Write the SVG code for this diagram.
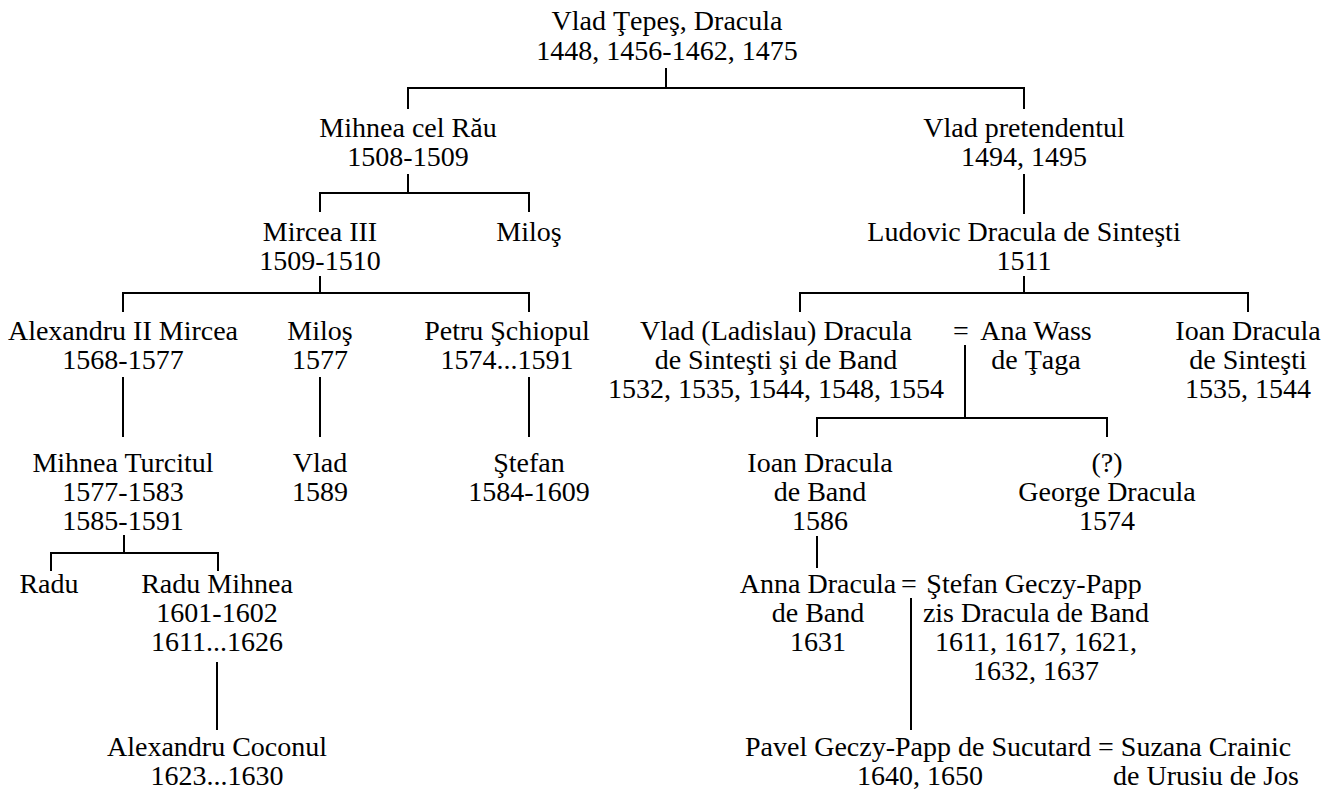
<svg xmlns="http://www.w3.org/2000/svg" width="1329" height="800" viewBox="0 0 1329 800">
<style>
text{font-family:"Liberation Serif","Times New Roman",serif;font-size:28px;fill:#000;text-anchor:middle}
.c path{fill:none;stroke:#000;stroke-width:2}
</style>
<rect width="1329" height="800" fill="#fff"/>
<g class="c" id="connectors">
<path d="M666,68V88M408,109V88H1024V109"/>
<path d="M408,174V193M320,212V193H529V212"/>
<path d="M1024,174V214"/>
<path d="M320,276V293M123,312V293H529V312"/>
<path d="M1024,276V293M800,312V293H1248V312"/>
<path d="M965,345V418M817,437V418H1107V437"/>
<path d="M123,377V437M320,377V437M529,377V437"/>
<path d="M124,535V553M51,571V553H218V571"/>
<path d="M817,536V568"/>
<path d="M217,662V730"/>
<path d="M911,598V730"/>
</g>
<g id="n_vlad"><text x="667" y="30">Vlad Ţepeş, Dracula</text><text x="667" y="60">1448, 1456-1462, 1475</text></g>
<g id="n_mihnea"><text x="408" y="137">Mihnea cel Rău</text><text x="408" y="166">1508-1509</text></g>
<g id="n_vladp"><text x="1024" y="137">Vlad pretendentul</text><text x="1024" y="166">1494, 1495</text></g>
<g id="n_mircea"><text x="320" y="241">Mircea III</text><text x="320" y="270">1509-1510</text></g>
<g id="n_milos1"><text x="529" y="241">Miloş</text></g>
<g id="n_ludovic"><text x="1024" y="241">Ludovic Dracula de Sinteşti</text><text x="1024" y="270">1511</text></g>
<g id="n_alex"><text x="123" y="340">Alexandru II Mircea</text><text x="123" y="369">1568-1577</text></g>
<g id="n_milos2"><text x="320" y="340">Miloş</text><text x="320" y="369">1577</text></g>
<g id="n_petru"><text x="507" y="340">Petru Şchiopul</text><text x="507" y="369">1574...1591</text></g>
<g id="n_vladl"><text x="776" y="340">Vlad (Ladislau) Dracula</text><text x="776" y="369">de Sinteşti şi de Band</text><text x="776" y="398">1532, 1535, 1544, 1548, 1554</text></g>
<g id="n_ana"><text x="961" y="340">=</text><text x="1036" y="340">Ana Wass</text><text x="1036" y="369">de Ţaga</text></g>
<g id="n_ioan1"><text x="1248" y="340">Ioan Dracula</text><text x="1248" y="369">de Sinteşti</text><text x="1248" y="398">1535, 1544</text></g>
<g id="n_mihneaT"><text x="123" y="472">Mihnea Turcitul</text><text x="123" y="501">1577-1583</text><text x="123" y="530">1585-1591</text></g>
<g id="n_vlad2"><text x="320" y="472">Vlad</text><text x="320" y="501">1589</text></g>
<g id="n_stefan1"><text x="529" y="472">Ştefan</text><text x="529" y="501">1584-1609</text></g>
<g id="n_ioan2"><text x="820" y="472">Ioan Dracula</text><text x="820" y="501">de Band</text><text x="820" y="530">1586</text></g>
<g id="n_george"><text x="1107" y="472">(?)</text><text x="1107" y="501">George Dracula</text><text x="1107" y="530">1574</text></g>
<g id="n_radu"><text x="49" y="593">Radu</text></g>
<g id="n_raduM"><text x="217" y="593">Radu Mihnea</text><text x="217" y="622">1601-1602</text><text x="217" y="651">1611...1626</text></g>
<g id="n_anna"><text x="818" y="593">Anna Dracula</text><text x="909" y="593">=</text><text x="818" y="622">de Band</text><text x="818" y="651">1631</text></g>
<g id="n_stefanG"><text x="1034" y="593">Ştefan Geczy-Papp</text><text x="1036" y="622">zis Dracula de Band</text><text x="1036" y="651">1611, 1617, 1621,</text><text x="1036" y="680">1632, 1637</text></g>
<g id="n_alexC"><text x="217" y="756">Alexandru Coconul</text><text x="217" y="785">1623...1630</text></g>
<g id="n_pavel"><text x="918" y="756">Pavel Geczy-Papp de Sucutard</text><text x="920" y="785">1640, 1650</text></g>
<g id="n_suzana"><text x="1106" y="756">=</text><text x="1206" y="756">Suzana Crainic</text><text x="1206" y="785">de Urusiu de Jos</text></g>
</svg>
